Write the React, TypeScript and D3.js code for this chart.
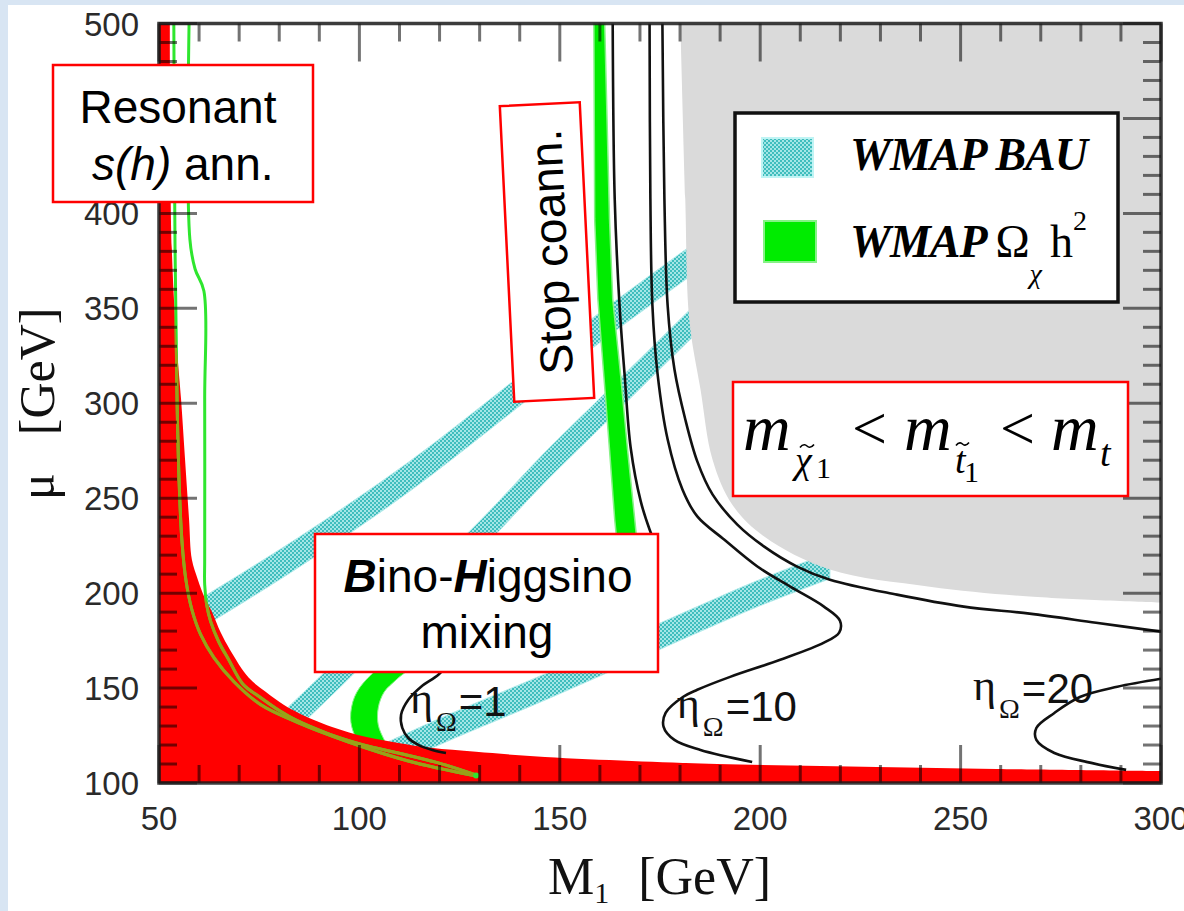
import React from "react";
import * as d3 from "d3";

type Pt = [number, number];

// ---- axes ----
const m1Domain: [number, number] = [50, 300];
const muDomain: [number, number] = [100, 500];
const m1TickLabels = [50, 100, 150, 200, 250, 300];
// 450 is hidden behind the "Resonant" box in the reference
const muTickLabels = [100, 150, 200, 250, 300, 350, 400, 500];

// ---- regions (M1, mu) ----
const grayRegion: Pt[] = [[180.1, 500], [181.3, 407.7], [182.3, 344.3], [185.1, 307.4], [188.1, 270.4], [193.0, 246.7], [201.0, 229.8], [217.4, 212.4], [242.3, 203.4], [267.2, 198.2], [300, 195.0]];

const redBoundary: Pt[] = [[52.7, 500], [53.2, 381.3], [54.5, 328.5], [55.5, 302.2], [56.5, 270.4], [57.5, 238.8], [58.2, 217.7], [59.7, 207.1], [61.4, 197.6], [63.2, 190.2], [65.4, 179.2], [67.7, 170.2], [72.4, 155.4], [76.6, 148.0], [81.1, 141.2], [84.8, 136.9], [93.0, 129.6], [101.5, 124.3], [109.7, 121.1], [117.9, 118.5], [129.1, 116.4], [146.3, 113.7], [167.9, 111.6], [189.3, 110.0], [229.1, 108.4], [258.9, 107.4], [300, 106.3]];

// WMAP Omega h^2 thin band (resonant region) boundaries
const wmapLineOuter: Pt[] = [[53.7, 500], [54.0, 381.3], [54.5, 302.1], [55.0, 259.9], [55.7, 228.2], [56.7, 207.1], [58.2, 191.3], [60.4, 178.1], [63.7, 166.0], [68.7, 153.3], [75.4, 141.2], [84.8, 131.7], [97.3, 121.6], [112.2, 111.6], [129.1, 103.7]];
const wmapLineInner: Pt[] = [[57.5, 500], [57.7, 386.5], [59.0, 370.7], [61.2, 359.1], [61.4, 302.1], [61.4, 217.7], [61.4, 204.5], [61.9, 193.9], [62.9, 185.0], [64.9, 174.4], [67.4, 164.9], [70.9, 152.2], [75.4, 144.9], [80.1, 138.0], [84.1, 133.2], [92.3, 125.9], [101.0, 120.1], [109.7, 115.8], [119.7, 110.6], [129.1, 104.2]];

// Stop co-annihilation WMAP band
const stopBandLeft: Pt[] = [[158.5, 500], [158.7, 397.1], [159.5, 354.9], [161.0, 314.2], [162.4, 275.7], [163.7, 238.8], [164.2, 228.2]];
const stopBandRight: Pt[] = [[161.2, 500], [162.4, 397.1], [163.2, 354.9], [165.2, 314.2], [166.9, 275.7], [168.7, 238.8], [169.2, 228.2]];
const stopCrescent: Pt[] = [[113.2, 162.3], [109.2, 154.4], [106.2, 148.0], [104.7, 139.6], [104.7, 130.6], [106.2, 122.7], [107.7, 117.4], [101.2, 118.5], [98.8, 125.3], [97.8, 134.3], [98.8, 145.4], [101.7, 154.4], [106.7, 162.3]];

// WMAP BAU bands (centre lines)
const bauBandA: Pt[] = [[59.95, 188.7], [84.8, 221.4], [112.2, 261.0], [135.8, 299.5], [159.5, 339.1], [182.6, 374.9]];
const bauBandB: Pt[] = [[82.3, 132.2], [95.3, 158.6], [109.7, 188.7], [129.9, 229.8], [145.8, 265.2], [161.0, 296.8], [183.1, 342.7]];
const bauBandC: Pt[] = [[106.0, 113.7], [122.1, 129.0], [147.0, 151.2], [171.9, 174.4], [184.3, 186.0], [199.3, 199.7], [217.4, 214.5]];
const bauHalfWidth = [7.9, 7.9, 6.9];

// eta_Omega contours
const etaOneUpper: Pt[] = [[163.2, 500], [163.7, 407.7], [164.9, 351.7], [166.2, 314.2], [167.7, 276.3], [170.2, 248.3], [172.4, 233.5], [173.9, 225.6]];
const etaOneLower: Pt[] = [[122.6, 163.9], [119.7, 157.0], [115.4, 150.7], [112.2, 143.8], [110.4, 135.9], [110.7, 129.0], [112.2, 123.7], [114.7, 120.1], [118.2, 117.4], [121.6, 115.8]];
const etaTen: Pt[] = [[172.4, 500], [172.6, 407.7], [173.1, 351.7], [174.4, 315.3], [176.9, 281.0], [180.6, 254.6], [184.3, 240.4], [191.0, 228.2], [199.3, 214.0], [207.5, 203.4], [215.9, 192.9], [219.9, 185.5], [219.7, 179.2], [215.9, 173.9], [205.0, 164.9], [192.5, 155.9], [184.3, 149.1], [180.8, 145.4], [176.4, 136.9], [175.9, 129.6], [178.6, 122.7], [185.1, 117.4], [198.0, 111.1]];
const etaOuter: Pt[] = [[175.6, 500], [176.1, 407.7], [176.9, 351.7], [178.6, 317.9], [181.3, 291.6], [184.3, 269.4], [188.1, 252.0], [194.3, 236.1], [201.0, 224.5], [209.2, 214.0], [217.4, 207.1], [234.1, 199.2], [250.8, 192.9], [267.2, 189.2], [283.8, 184.4], [300, 179.7]];
const etaTwenty: Pt[] = [[300, 154.9], [289.1, 150.7], [279.9, 145.4], [273.4, 136.9], [268.9, 129.0], [268.9, 122.7], [273.4, 115.8], [282.6, 110.6], [291.3, 106.9]];

const etaLabels = [
  { value: "1", m1: 112.6, mu: 137.0 },
  { value: "10", m1: 179.2, mu: 134.4 },
  { value: "20", m1: 253.1, mu: 143.8 },
];

const SANS = "'Liberation Sans', Arial, sans-serif";
const SERIF = "'Liberation Serif', 'Times New Roman', serif";

function Tilde({ x, y, w }: { x: number; y: number; w: number }) {
  const h = w * 0.22;
  const d = `M${x},${y + h / 2} C${x + w * 0.25},${y - h} ${x + w * 0.45},${y - h * 0.2} ${x + w * 0.5},${y} S${x + w * 0.75},${y + h} ${x + w},${y - h / 2}`;
  return <path d={d} fill="none" stroke="#000" strokeWidth={1.6} />;
}

export default function App() {
  const x = d3.scaleLinear().domain(m1Domain).range([159, 1161]);
  const y = d3.scaleLinear().domain(muDomain).range([783, 23.5]);
  const smooth = d3.line<Pt>().x((d) => x(d[0])).y((d) => y(d[1])).curve(d3.curveCatmullRom.alpha(0.5));
  const straight = d3.line<Pt>().x((d) => x(d[0])).y((d) => y(d[1]));
  const closedSmooth = d3.line<Pt>().x((d) => x(d[0])).y((d) => y(d[1])).curve(d3.curveCatmullRomClosed.alpha(0.5));

  const grayPath = (smooth(grayRegion) as string) + `L${x(300)},${y(500)}Z`;
  const redPath =
    `M${x(50)},${y(500)}` +
    (smooth(redBoundary) as string).replace(/^M/, "L") +
    `L${x(300)},${y(100)}L${x(50)},${y(100)}Z`;
  const stopPath = (straight([...stopBandLeft, ...stopBandRight.slice().reverse()]) as string) + "Z";
  const crescentPath = closedSmooth(stopCrescent) as string;

  const bandArea = (hw: number) =>
    d3.area<Pt>().x((d) => x(d[0])).y0((d) => y(d[1] - hw)).y1((d) => y(d[1] + hw)).curve(d3.curveCatmullRom.alpha(0.5));
  const bands = [bauBandA, bauBandB, bauBandC].map((b, i) => bandArea(bauHalfWidth[i])(b) as string);

  const xMinor = d3.range(50, 301, 10);
  const yMinor = d3.range(100, 501, 10);
  const L = (v: number) => (v % 50 === 0 ? 38 : 18);
  const x0 = x(50), x1 = x(300), y0 = y(100), y1 = y(500);

  const contourStyle = { fill: "none", stroke: "#111", strokeWidth: 2.6 };

  return (
    <svg width={1184} height={911} style={{ position: "absolute", left: 0, top: 0 }}>
      <defs>
        <pattern id="bau" width="4" height="4" patternUnits="userSpaceOnUse">
          <rect width="4" height="4" fill="#a4e6e6" />
          <rect width="2" height="2" fill="#3fbdbd" />
          <rect x="2" y="2" width="2" height="2" fill="#3fbdbd" />
        </pattern>
        <clipPath id="redclip">
          <path d={redPath} />
        </clipPath>
        <clipPath id="plotclip">
          <rect x={x0} y={y1} width={x1 - x0} height={y0 - y1} />
        </clipPath>
      </defs>
      <rect width={1184} height={911} fill="#d8e5f3" />
      <rect x={8} y={5} width={1176} height={906} fill="#fff" />

      <g clipPath="url(#plotclip)">
        {bands.map((d, i) => (
          <path key={i} d={d} fill="url(#bau)" stroke="#b4ecec" strokeWidth={1} />
        ))}
        <path d={grayPath} fill="#dadada" />
        <path d={stopPath} fill="#00ec00" stroke="#86f286" strokeWidth={1.5} />
        <path d={crescentPath} fill="#00ec00" stroke="#86f286" strokeWidth={1} />
        <path d={redPath} fill="#ff0000" />
        {[wmapLineOuter, wmapLineInner].map((l, i) => (
          <path key={"g" + i} d={smooth(l) as string} fill="none" stroke="#2ee62e" strokeWidth={3} />
        ))}
        <g clipPath="url(#redclip)">
          {[wmapLineOuter, wmapLineInner].map((l, i) => (
            <path key={"o" + i} d={smooth(l) as string} fill="none" stroke="#9aa018" strokeWidth={3} />
          ))}
        </g>
        <circle cx={x(129.1)} cy={y(104)} r={3} fill="#2ee62e" />
        {[etaOneUpper, etaOneLower, etaTen, etaOuter, etaTwenty].map((c, i) => (
          <path key={"c" + i} d={smooth(c) as string} {...contourStyle} />
        ))}
      </g>

      {/* eta labels */}
      {etaLabels.map((e) => (
        <text key={e.value} x={x(e.m1)} y={y(e.mu)} fontFamily={SERIF} fontSize={44} fill="#111">
          η
          <tspan fontSize={28} dx={3} dy={18}>Ω</tspan>
          <tspan fontFamily={SANS} fontSize={42} dx={2} dy={-15}>={e.value}</tspan>
        </text>
      ))}

      {/* ticks */}
      <g stroke="#000" strokeOpacity={0.55} strokeWidth={3}>
        {xMinor.map((v) => (
          <g key={"xt" + v}>
            <line x1={x(v)} x2={x(v)} y1={y0} y2={y0 - L(v)} />
            <line x1={x(v)} x2={x(v)} y1={y1} y2={y1 + L(v)} />
          </g>
        ))}
        {yMinor.map((v) => (
          <g key={"yt" + v}>
            <line x1={x0} x2={x0 + L(v)} y1={y(v)} y2={y(v)} />
            <line x1={x1} x2={x1 - L(v)} y1={y(v)} y2={y(v)} />
          </g>
        ))}
      </g>
      <rect x={x0} y={y1} width={x1 - x0} height={y0 - y1} fill="none" stroke="#1a1a1a" strokeOpacity={0.85} strokeWidth={3.5} />

      {/* tick labels */}
      {m1TickLabels.map((v) => (
        <text key={"xl" + v} x={x(v)} y={830} textAnchor="middle" fontFamily={SANS} fontSize={33} fill="#2a2a2a">{v}</text>
      ))}
      {muTickLabels.map((v) => (
        <text key={"yl" + v} x={139} y={y(v) + 12} textAnchor="end" fontFamily={SANS} fontSize={33} fill="#2a2a2a">{v}</text>
      ))}

      {/* axis titles */}
      <text x={548} y={894} fontFamily={SERIF} fontSize={52} fill="#111">
        M<tspan fontSize={30} dy={9}>1</tspan>
        <tspan dy={-9} dx={29}>[GeV]</tspan>
      </text>
      <text transform="translate(54,500) rotate(-90)" fontFamily={SERIF} fontSize={50} fill="#111">
        μ<tspan dx={38}>[GeV]</tspan>
      </text>

      {/* Resonant box */}
      <rect x={53} y={65} width={260} height={137} fill="#fff" stroke="#ff0000" strokeWidth={2.5} />
      <text x={178} y={123} textAnchor="middle" fontFamily={SANS} fontSize={46} fill="#000">Resonant</text>
      <text x={92} y={180} fontFamily={SANS} fontSize={46} fill="#000">
        <tspan fontStyle="italic">s(h)</tspan> ann.
      </text>

      {/* Stop coann box */}
      <g transform="translate(547,252) rotate(-2.8)">
        <rect x={-40} y={-148} width={80} height={296} fill="#fff" stroke="#ff0000" strokeWidth={2.5} />
        <text transform="rotate(-90)" x={0} y={20} textAnchor="middle" fontFamily={SANS} fontSize={46} fill="#000">Stop coann.</text>
      </g>

      {/* Bino-Higgsino box */}
      <rect x={315} y={534} width={343} height={138} fill="#fff" stroke="#ff0000" strokeWidth={2.5} />
      <text x={488} y={592} textAnchor="middle" fontFamily={SANS} fontSize={46} fill="#000">
        <tspan fontWeight="bold" fontStyle="italic">B</tspan>ino-<tspan fontWeight="bold" fontStyle="italic">H</tspan>iggsino
      </text>
      <text x={487} y={648} textAnchor="middle" fontFamily={SANS} fontSize={46} fill="#000">mixing</text>

      {/* Legend */}
      <rect x={735} y={113} width={383} height={189} fill="#fff" stroke="#111" strokeWidth={3.5} />
      <rect x={762} y={138} width={51} height={39} fill="url(#bau)" stroke="#bff4f4" strokeWidth={2} />
      <rect x={764} y={221} width={52} height={41} fill="#00ec00" stroke="#86f286" strokeWidth={2} />
      <text x={850} y={170} fontFamily={SERIF} fontSize={46} fontWeight="bold" fontStyle="italic" letterSpacing={-1} fill="#000">WMAP BAU</text>
      <text x={850} y={257} fontFamily={SERIF} fontSize={46} fill="#000">
        <tspan fontWeight="bold" fontStyle="italic" letterSpacing={-1}>WMAP </tspan>
        <tspan>Ω</tspan>
        <tspan fontStyle="italic" fontSize={28} dy={26}>χ</tspan>
        <tspan dy={-26} dx={8}>h</tspan>
        <tspan fontSize={28} dy={-27}>2</tspan>
      </text>

      {/* mass ordering box */}
      <rect x={733} y={382} width={395} height={114} fill="#fff" stroke="#ff0000" strokeWidth={2.5} />
      <g fontFamily={SERIF} fill="#000">
        <text x={743} y={450} fontSize={66} fontStyle="italic">m</text>
        <text x={795} y={473} fontSize={38} fontStyle="italic">χ</text>
        <text x={816} y={478} fontSize={30}>1</text>
        <text x={852} y={449} fontSize={62}>&lt;</text>
        <text x={904} y={450} fontSize={66} fontStyle="italic">m</text>
        <text x={955} y={473} fontSize={38} fontStyle="italic">t</text>
        <text x={964} y={482} fontSize={30}>1</text>
        <text x={1000} y={449} fontSize={62}>&lt;</text>
        <text x={1051} y={450} fontSize={66} fontStyle="italic">m</text>
        <text x={1100} y={466} fontSize={38} fontStyle="italic">t</text>
      </g>
      <Tilde x={800} y={446} w={14} />
      <Tilde x={956} y={444} w={13} />
    </svg>
  );
}
